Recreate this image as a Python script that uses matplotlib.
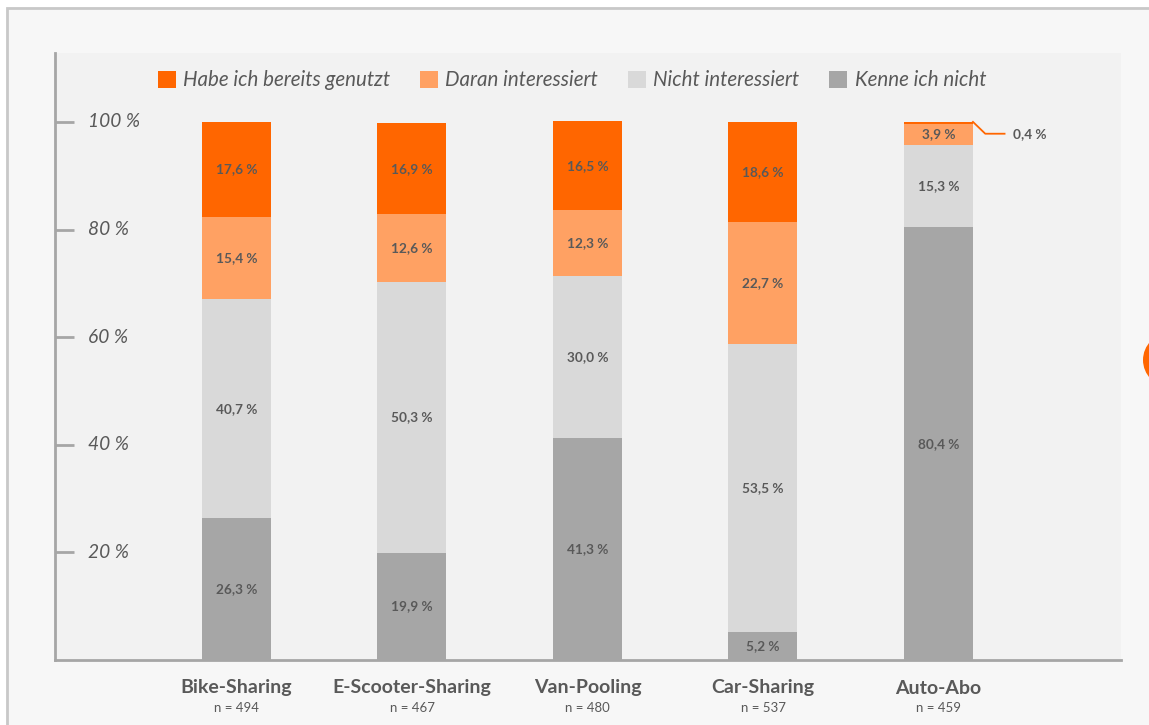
import matplotlib.pyplot as plt
from matplotlib.patches import Patch, Rectangle, Ellipse
from matplotlib.transforms import blended_transform_factory
import numpy as np

plt.rcParams['font.family'] = ['Lato', 'DejaVu Sans']

categories = ['Bike-Sharing', 'E-Scooter-Sharing', 'Van-Pooling', 'Car-Sharing', 'Auto-Abo']
sample_sizes = [494, 467, 480, 537, 459]

# stacked from bottom to top
kenne_nicht = [26.3, 19.9, 41.3, 5.2, 80.4]
nicht_interessiert = [40.7, 50.3, 30.0, 53.5, 15.3]
interessiert = [15.4, 12.6, 12.3, 22.7, 3.9]
genutzt = [17.6, 16.9, 16.5, 18.6, 0.4]

series = [
    ('Kenne ich nicht', kenne_nicht, '#a6a6a6'),
    ('Nicht interessiert', nicht_interessiert, '#d9d9d9'),
    ('Daran interessiert', interessiert, '#ffa163'),
    ('Habe ich bereits genutzt', genutzt, '#ff6600'),
]
yticks = [20, 40, 60, 80, 100]

text_col = '#595959'
W, H = 1149, 725

fig = plt.figure(figsize=(W / 100, H / 100), dpi=100)
fig.patch.set_facecolor('white')

# outer frame of the slide
fig.patches.append(Rectangle((7 / W, -0.1), 1.2, 1 - 8 / H + 0.1, transform=fig.transFigure,
                             facecolor='#f7f7f7', edgecolor='#c8c8c8', linewidth=2, zorder=-2))
fig.patches.append(Ellipse((1170 / W, 1 - 360 / H), 54 / W, 54 / H, transform=fig.transFigure,
                           facecolor='#ff6600', edgecolor='none', zorder=-1))

ax = fig.add_axes([55 / W, 65 / H, 1066 / W, 607 / H])
ax.set_facecolor('#f2f2f2')

x = np.arange(len(categories))
width = 0.393
bottom = np.zeros(len(categories))
for name, vals, col in series:
    vals = np.array(vals)
    ax.bar(x, vals, width, bottom=bottom, color=col, label=name, zorder=2)
    for xi, b, v in zip(x, bottom, vals):
        if v >= 1:
            ax.text(xi, b + v / 2, f'{v:.1f} %'.replace('.', ','), ha='center', va='center',
                    fontsize=9.8, fontweight='bold', color=text_col, zorder=3)
    bottom += vals

# callout for the tiny top segment of Auto-Abo
i = 4
top = bottom[i]
x0 = x[i] + width / 2
ax.plot([x0, x0 + 0.07, x0 + 0.18], [top, top - 2.2, top - 2.2], color='#ff6600', lw=1.3,
        zorder=3, clip_on=False)
ax.text(x0 + 0.23, top - 2.2, f'{genutzt[i]:.1f} %'.replace('.', ','), ha='left', va='center',
        fontsize=9.8, fontweight='bold', color=text_col)

ax.set_xlim(-1.034, 5.04)
ax.set_ylim(0, 112.8)

for s in ['top', 'right']:
    ax.spines[s].set_visible(False)
for s in ['left', 'bottom']:
    ax.spines[s].set_color('#a6a6a6')
    ax.spines[s].set_linewidth(2)

ax.set_xticks([])
ax.set_yticks(yticks)
ax.tick_params(axis='y', direction='in', length=14, width=2, color='#a6a6a6', labelleft=False)

ty = blended_transform_factory(ax.transAxes, ax.transData)
for t in yticks:
    ax.text(33 / 1066, t, f'{t} %', transform=ty, ha='left', va='center',
            fontsize=13.8, style='italic', color=text_col)

tx = blended_transform_factory(ax.transData, ax.transAxes)
for xi, name, n in zip(x, categories, sample_sizes):
    ax.text(xi, -28 / 607, name, transform=tx, ha='center', va='center',
            fontsize=14, fontweight='bold', color=text_col)
    ax.text(xi, -48 / 607, f'n = {n}', transform=tx, ha='center', va='center',
            fontsize=9.5, color=text_col)

handles = [Patch(facecolor=c, label=nm) for nm, _, c in reversed(series)]
ax.legend(handles=handles, ncol=4, loc='center', bbox_to_anchor=(0.485, 0.955),
          frameon=False, prop={'size': 14.8, 'style': 'italic'}, labelcolor=text_col,
          handlelength=0.88, handleheight=0.88, handletextpad=0.35, columnspacing=1.45)

fig.savefig('out.png', dpi=100)
